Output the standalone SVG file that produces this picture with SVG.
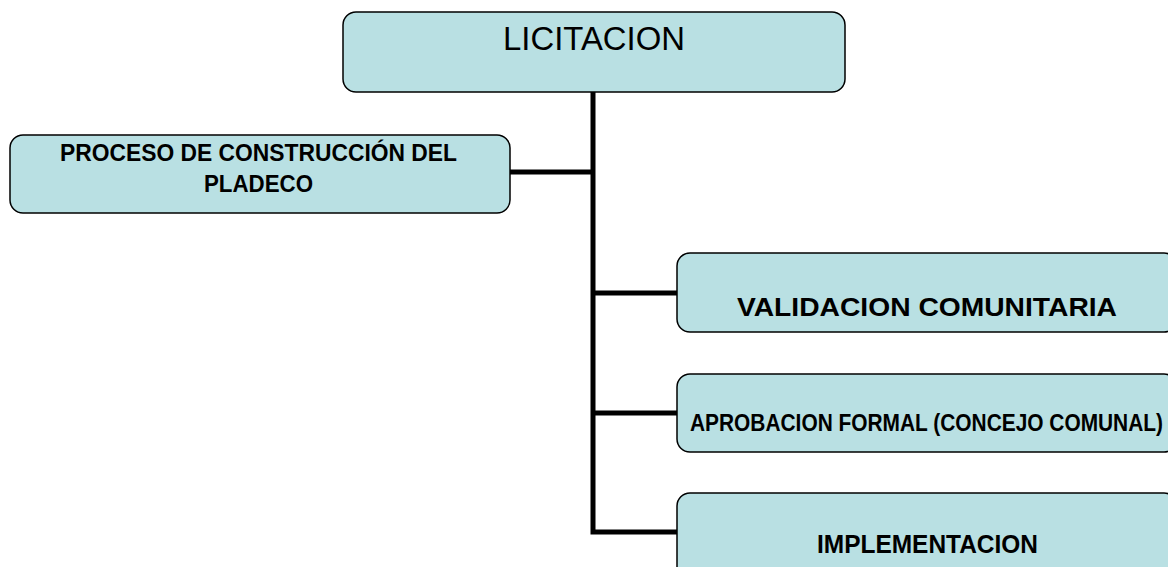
<svg xmlns="http://www.w3.org/2000/svg" width="1168" height="567" viewBox="0 0 1168 567">
<style>
.box{fill:#B9E0E3;stroke:#000;stroke-width:1.5}
.t{font-family:"Liberation Sans Narrow","Liberation Sans",Arial,sans-serif;font-weight:bold;fill:#000;text-anchor:middle}
.conn{stroke:#000;stroke-width:5;fill:none}
</style>
<rect width="1168" height="567" fill="#fff"/>
<g id="connectors">
<polyline class="conn" points="593,92 593,532 677,532"/>
<line class="conn" x1="510" y1="172" x2="593" y2="172"/>
<line class="conn" x1="593" y1="293" x2="677" y2="293"/>
<line class="conn" x1="593" y1="413" x2="677" y2="413"/>
</g>
<g id="licitacion">
<rect class="box" x="343" y="12" width="502" height="80" rx="13"/>
<text x="594" y="50" font-size="33" font-family="'Liberation Sans Narrow','Liberation Sans',Arial,sans-serif" text-anchor="middle" textLength="182" lengthAdjust="spacingAndGlyphs">LICITACION</text>
</g>
<g id="proceso">
<rect class="box" x="10" y="135" width="500" height="78" rx="13"/>
<text class="t" x="258.5" y="161" font-size="23" textLength="397" lengthAdjust="spacingAndGlyphs">PROCESO DE CONSTRUCCIÓN DEL</text>
<text class="t" x="258.5" y="192" font-size="23" textLength="109" lengthAdjust="spacingAndGlyphs">PLADECO</text>
</g>
<g id="validacion">
<rect class="box" x="677" y="253" width="500" height="79" rx="13"/>
<text class="t" x="927" y="316" font-size="26" textLength="380" lengthAdjust="spacingAndGlyphs">VALIDACION COMUNITARIA</text>
</g>
<g id="aprobacion">
<rect class="box" x="677" y="374" width="500" height="78" rx="13"/>
<text class="t" x="926.5" y="431" font-size="23" textLength="473" lengthAdjust="spacingAndGlyphs">APROBACION FORMAL (CONCEJO COMUNAL)</text>
</g>
<g id="implementacion">
<rect class="box" x="677" y="493" width="500" height="90" rx="13"/>
<text class="t" x="927.5" y="553" font-size="25" textLength="221" lengthAdjust="spacingAndGlyphs">IMPLEMENTACION</text>
</g>
</svg>
